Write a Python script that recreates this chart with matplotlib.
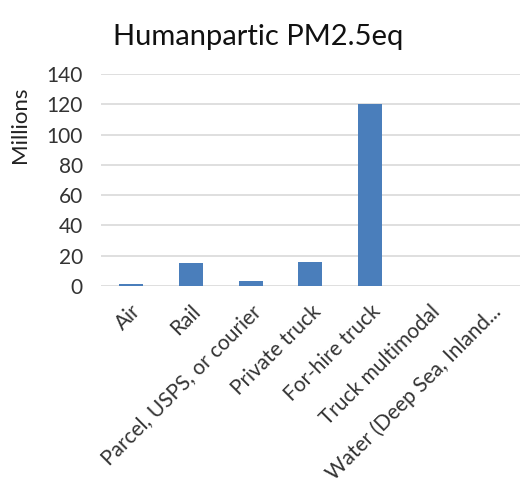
import matplotlib
matplotlib.use("Agg")
import matplotlib.pyplot as plt
import numpy as np

categories = ["Air", "Rail", "Parcel, USPS, or courier", "Private truck",
              "For-hire truck", "Truck multimodal", "Water (Deep Sea, Inland..."]
values = [1, 15, 3, 16, 120, 0, 0]
yticks = [0, 20, 40, 60, 80, 100, 120, 140]


def main():
    plt.rcParams['font.family'] = ['Lato', 'DejaVu Sans']

    fig = plt.figure(figsize=(5.2, 4.87), dpi=100)
    ax = fig.add_axes([0.194, 0.413, 0.806, 0.435])

    x = np.arange(len(categories))
    ax.bar(x, values, width=0.4, color="#4a7ebb", zorder=3)

    ax.set_xlim(-0.5, len(categories) - 0.5)
    ax.set_ylim(0, 140)
    ax.set_yticks(yticks)
    ax.tick_params(axis='y', length=0, labelsize=15, pad=13, colors="#333333")
    ax.tick_params(axis='x', length=0, labelsize=15, pad=11, colors="#333333")
    ax.set_xticks(x)
    ax.set_xticklabels(categories, rotation=45, ha='right', rotation_mode='anchor')
    ax.grid(axis='y', color="#d9d9d9", linewidth=1.2, zorder=0)
    for s in ax.spines.values():
        s.set_visible(False)

    ax.set_ylabel("Millions", fontsize=16, color="#222222")
    ax.yaxis.set_label_coords(-0.17, 0.76)
    fig.text(0.497, 0.925, "Humanpartic PM2.5eq", ha='center', va='center',
             fontsize=21, color="#111111")

    fig.savefig("out.png", dpi=100)


if __name__ == '__main__':
    main()
